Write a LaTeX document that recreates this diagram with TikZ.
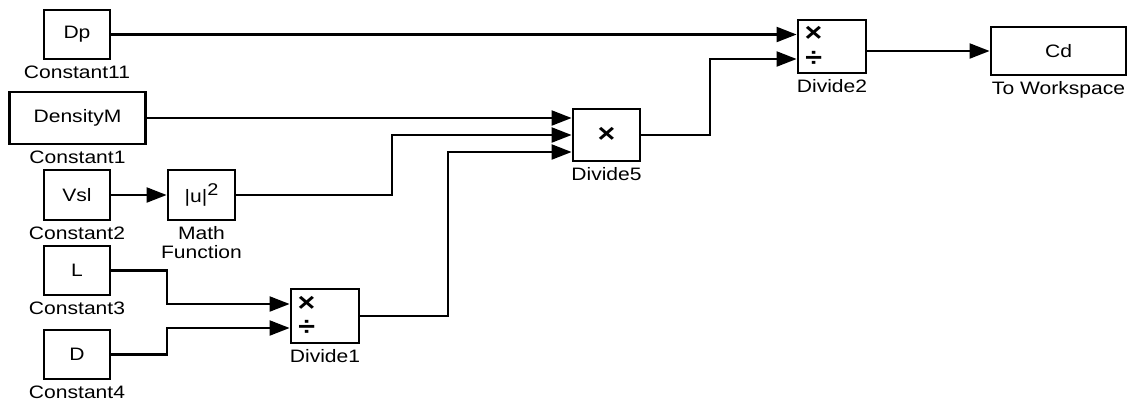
\documentclass[tikz,border=0pt]{standalone}
\usepackage{fontspec}
\setmainfont{Liberation Sans}[FakeStretch=1.17]
\usetikzlibrary{arrows.meta}

\begin{document}
\begin{tikzpicture}[x=1pt,y=-1pt,>={Triangle[length=20pt,width=15pt]},
  blk/.style={draw,line width=2.8pt,inner sep=0pt,label distance=0pt,font=\fontsize{18}{20}\selectfont},
  lbl/.style={font=\fontsize{18}{18.5}\selectfont,inner sep=0pt,align=center,yshift=-5pt},
  sig/.style={->,line width=2.1pt},
  op/.style={font=\fontsize{26}{26}\selectfont\bfseries,inner sep=0pt}]
  \useasboundingbox (0,0) rectangle (1138,402);
  % sources
  \node[blk,minimum width=66pt,minimum height=49pt,label={[lbl]below:Constant11}] (c11) at (77,34.5) {Dp};
  \node[blk,minimum width=136pt,minimum height=52pt,label={[lbl]below:Constant1}] (c1) at (77.5,118) {DensityM};
  \node[blk,minimum width=66pt,minimum height=50pt,label={[lbl]below:Constant2}] (c2) at (77,195) {Vsl};
  \node[blk,minimum width=66pt,minimum height=49pt,label={[lbl]below:Constant3}] (c3) at (77,270.5) {L};
  \node[blk,minimum width=66pt,minimum height=49pt,label={[lbl]below:Constant4}] (c4) at (77,354.5) {D};
  % operations
  \node[blk,minimum width=67pt,minimum height=50pt,label={[lbl]below:Math\\Function}] (mathf) at (201.5,195) {|u|\raisebox{0.42em}{\fontsize{17}{17}\selectfont 2}};
  \node[blk,minimum width=68pt,minimum height=54pt,label={[lbl]below:Divide1}] (div1) at (325,316) {};
  \node[blk,minimum width=67pt,minimum height=52pt,label={[lbl]below:Divide5}] (div5) at (606.5,135) {};
  \node[blk,minimum width=68pt,minimum height=53pt,label={[lbl]below:Divide2}] (div2) at (832,46.5) {};
  \node[blk,minimum width=135pt,minimum height=48pt,label={[lbl]below:To Workspace}] (ws) at (1058.5,51) {Cd};
  \node[op] (div1x) at ([xshift=17pt,yshift=12pt]div1.west) {×};
  \node[op] (div1d) at ([xshift=17pt,yshift=-12pt]div1.west) {÷};
  \node[op] (div5x) at (div5) {×};
  \node[op] (div2x) at ([xshift=17pt,yshift=12.5pt]div2.west) {×};
  \node[op] (div2d) at ([xshift=17pt,yshift=-12.5pt]div2.west) {÷};
  % signals
  \draw[sig] (c11.east) -- (c11.east -| div2.west);
  \draw[sig] (c1.east) -- (c1.east -| div5.west);
  \draw[sig] (c2.east) -- (mathf.west);
  \draw[sig] (mathf.east) -- ++(156,0) |- (div5.west);
  \draw[sig] (c3.east) -- ++(56,0) |- ([yshift=12pt]div1.west);
  \draw[sig] (c4.east) -- ++(56,0) |- ([yshift=-12pt]div1.west);
  \draw[sig] (div1.east) -- ++(88,0) |- ([yshift=-17pt]div5.west);
  \draw[sig] (div5.east) -- ++(69,0) |- ([yshift=-12.5pt]div2.west);
  \draw[sig] (div2.east |- ws.west) -- (ws.west);
\end{tikzpicture}
\end{document}
